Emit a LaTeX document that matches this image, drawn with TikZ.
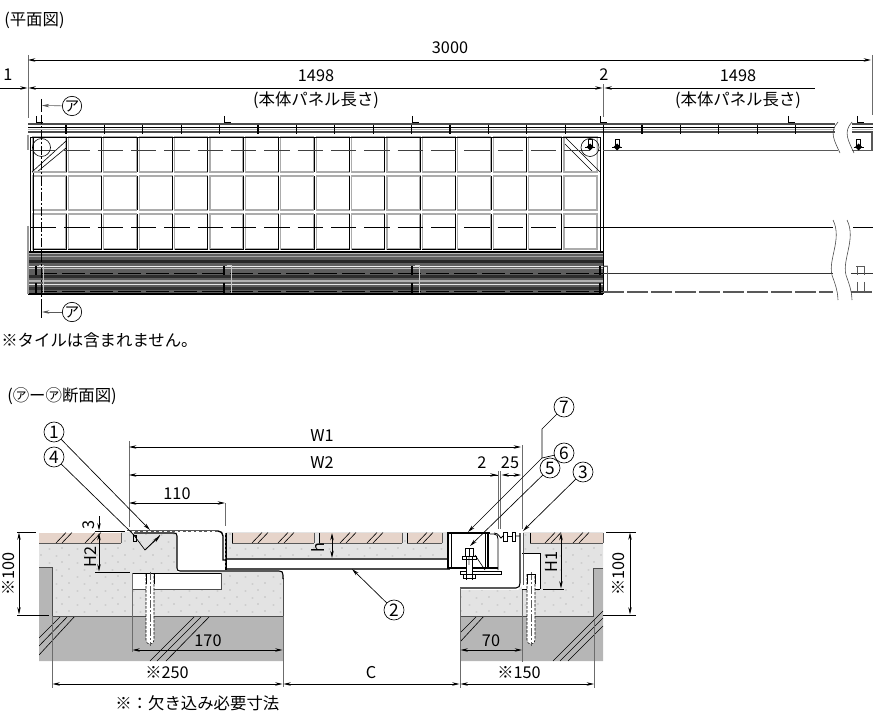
\documentclass[tikz,border=0pt]{standalone}
\usepackage{fontspec}
\setmainfont{Noto Sans CJK JP}
\usetikzlibrary{arrows.meta}
\usetikzlibrary{positioning}
\definecolor{tilecol}{HTML}{E6D4CA}
\definecolor{mortarcol}{HTML}{E3E3E3}
\definecolor{concol}{HTML}{B6B6B6}
\definecolor{bandcol}{HTML}{5E5E5E}
\begin{document}
\begin{tikzpicture}[x=0.75pt,y=-0.75pt,line width=0.45pt,>={Stealth[length=5.5pt,width=2.6pt]},
    dimline/.style={<->,line width=0.5pt}, halfdim/.style={->,line width=0.5pt},
    extline/.style={draw=gray!85!black,line width=0.6pt},
    leader/.style={->,line width=0.5pt},
    tag node/.style={circle,draw,line width=0.5pt,inner sep=0pt,minimum size=15pt,font=\fontsize{13}{13}\selectfont},
    small tag/.style={tag node,minimum size=14.5pt,font=\fontsize{11}{11}\selectfont},
    num node/.style={inner sep=0pt,font=\fontsize{12.2}{12.2}\selectfont},
    jp node/.style={inner sep=0pt,font=\fontsize{12.3}{13}\selectfont},
    tile line/.style={draw=gray!65,line width=0.8pt},
    strip line/.style={draw=gray!60!black,line width=1.1pt},
    long dash/.style={dash pattern=on 19pt off 6pt},
    hatch/.style={line width=0.45pt},
    dotmark/.style={fill=gray!60,draw=gray!30,line width=0.2pt},
    boltline/.style={line width=0.4pt,dash pattern=on 2pt off 1pt,fill=white}]
  \useasboundingbox (0,0) rectangle (873,716);

  % plan
  \node[jp node,anchor=west] (plantitle) at (4,20) {(平面図)};
  \node[num node] (t3000) at (450,48) {3000};
  \node[num node] (t1) at (8,75) {1};
  \node[num node] (t1498a) at (316,76) {1498};
  \node[num node] (t2a) at (604,75) {2};
  \node[num node] (t1498b) at (738,76) {1498};
  \node[jp node] (nagasa1) at (316,100) {(本体パネル長さ)};
  \node[jp node] (nagasa2) at (738,100) {(本体パネル長さ)};
  \draw[extline] (28,55) -- (28,118);
  \draw[extline] (872,55) -- (872,115);
  \draw[extline] (603.5,84) -- (603.5,117);
  \draw[dimline] (28,60) -- (871,60);
  \draw[halfdim] (0,88) -- (27.5,88);
  \draw[dimline] (28.5,88) -- (602.5,88);
  \draw[<-,line width=0.5pt] (604.5,88) -- (815,88);

  % panel band
  \fill[bandcol] (28,252) rectangle (603,294);
  \foreach \y/\c/\w in {254/gray!55/1,257/gray!70/1,262/gray!30!black/3,266.5/gray!15/1,269/gray!50/1,
      277/gray!35!black/3,281/gray!60/1.2,284.5/gray!20/1.2,288/gray!40!black/3} {
    \draw[draw=\c,line width=\w*0.75pt] (28,\y) -- (603,\y);
  }
  \draw[line width=1pt] (28,252) -- (603,252);
  \draw[line width=1.2pt] (28,294) -- (603,294);
  \draw[line width=1pt,dash pattern=on 17pt off 4pt,dash phase=6pt] (42,273.5) -- (603,273.5);
  \draw[line width=1pt,dash pattern=on 17pt off 4pt,dash phase=6pt] (42,291.5) -- (603,291.5);
  \foreach \x in {36,224,412,600} {
    \draw[line width=1.2pt] (\x,266) -- (\x,275) (\x,283) -- (\x,293);
    \draw[draw=gray!45,line width=0.4pt] (\x+7,265) -- (\x+3,265) (\x+7,265) -- (\x+7,293);
  }

  % tiles
  \foreach \i in {0,...,15} {
    \pgfmathsetmacro\tx{33+35.4*\i}
    \foreach \ya/\yb in {137/172,176/210,214/249} {
      \draw[tile line] (\tx,\ya) rectangle (\tx+33,\yb);
    }
  }
  \foreach \i in {0,...,14} {
    \pgfmathsetmacro\tx{33+35.4*\i}
    \draw (\tx,137) -- (\tx+33,137) -- (\tx+33,172);
    \draw (\tx+33,176) -- (\tx+33,210);
    \draw (\tx+33,214) -- (\tx+33,249) -- (\tx,249);
  }
  \fill[white] (33.5,137.5) rectangle (65,170) (565,137.5) rectangle (596.5,170);
  \draw (30,137) -- (600,137) (30,137) -- (30,252) (33,137) -- (33,252);
  \draw (600,137) -- (600,252) (603,133) -- (603,294);
  \draw[line width=1pt,draw=gray!80] (28,135) -- (28,150) (28,226) -- (28,294);
  \draw (66,141) -- (32,172) (66,148) -- (37,172);
  \draw (565,137) -- (600,172) (565,144) -- (593,172);
  \draw[tile line] (33,172) -- (66,172) (565,172) -- (597,172);

  % top strip
  \foreach \xa/\xb in {28/835,852/873} {
    \draw[strip line] (\xa,124) -- (\xb,124);
    \draw[line width=0.7pt] (\xa,127.5) -- (\xb,127.5);
    \draw[strip line] (\xa,132) -- (\xb,132);
    \draw[draw=gray!60,line width=0.6pt] (\xa,129.5) -- (\xb,129.5);
  }
  \foreach \i in {0,...,19} {
    \draw[line width=1pt] (66+38.4*\i,125) -- (66+38.4*\i,134);
  }
  \foreach \x in {36,224,412,600,788,857} {
    \draw[line width=0.55pt] (\x,116) -- (\x,122) -- (\x+7,122);
  }

  % long lines
  \draw[long dash,draw=gray!50!black] (31,150) -- (600,150);
  \draw[long dash] (31,227) -- (600,227);
  \draw[draw=gray!70!black] (603,150.5) -- (838,150.5) (852,150.5) -- (873,150.5);
  \draw (590,227) -- (833,227) (853,227) -- (873,227);
  \draw[line width=1pt,draw=gray!40!black] (603,273.5) -- (833,273.5) (851,273.5) -- (873,273.5);
  \draw[draw=gray!70!black,line width=0.8pt,dash pattern=on 16pt off 2pt] (603,292) -- (833,292) (851,292) -- (873,292);
  \draw[draw=gray!70!black] (603,266) -- (607,266) -- (607,293);
  \draw[draw=gray!70!black] (856,266) -- (864,266) (857,266) -- (857,275) (864,266) -- (864,275)
       (857,282) -- (857,293) (864,282) -- (864,293);
  \draw[draw=gray!70!black,line width=0.8pt] (872,133) -- (872,150);

  % break marks
  \foreach \dx in {0,14} {
    \draw[draw=gray!60!black] (838+\dx,122) .. controls (829+\dx,132) and (834+\dx,140) .. (840+\dx,153);
    \draw[draw=gray!60!black] (833+\dx,220) .. controls (843+\dx,240) and (826+\dx,262) .. (833+\dx,278)
         .. controls (836+\dx,286) and (838+\dx,294) .. (838+\dx,300);
  }

  % fixing holes
  \coordinate (holeL) at (41.5,147.5);
  \coordinate (holeR) at (590,147.5);
  \draw (holeL) circle (9);
  \draw (holeR) circle (9);
  \fill (holeL) circle (0.7);
  \foreach \x in {590,617,858.5} {
    \draw (\x-2,139) rectangle (\x+2,145);
    \fill (\x-3.5,147) -- (\x,143.5) -- (\x+3.5,147) -- (\x,150.5) -- cycle;
    \draw[line width=0.5pt] (\x-5,147) -- (\x+5,147);
  }

  % section mark
  \node[small tag] (aTop) at (72,106) {ア};
  \node[small tag] (aBot) at (72,312) {ア};
  \coordinate (markTop) at (42,105.5);
  \coordinate (markBot) at (42,312);
  \draw[line width=0.6pt] (41,99) -- (41,112);
  \draw[line width=0.45pt,dash pattern=on 7pt off 1.5pt on 1.5pt off 1.5pt] (41,115) -- (41,305);
  \draw[line width=0.6pt] (41,305) -- (41,318);
  \draw[->,draw=gray!70!black] (aTop) -- (markTop);
  \draw[->,draw=gray!70!black] (aBot) -- (markBot);
  \node[jp node,anchor=west] (notile) at (1,340) {※タイルは含まれません。};

  % section title
  \node[jp node,anchor=west] (sectitle) at (7,396) {(㋐ー㋐断面図)};

  % concrete
  \fill[concol] (39,567) -- (52,567) -- (52,616) -- (283,616) -- (283,661) -- (39,661) -- cycle;
  \fill[concol] (460,616) -- (593,616) -- (593,568) -- (603,568) -- (603,661) -- (460,661) -- cycle;
  \begin{scope}
    \clip (39,567) -- (52,567) -- (52,616) -- (283,616) -- (283,661) -- (39,661) -- cycle
          (460,616) -- (593,616) -- (593,568) -- (603,568) -- (603,661) -- (460,661) -- cycle;
    \foreach \xa/\ya/\xb/\yb in {39/638/61/616,39/646/68/616,39/655/75/616,150/661/195/616,157/661/202/616,166/661/210/616,
        460/633/477/616,460/642/484/616,553/661/603/611,560/661/603/618,568/661/603/626} {
      \draw[hatch] (\xa,\ya) -- (\xb,\yb);
    }
  \end{scope}

  % mortar
  \fill[mortarcol] (39,543) -- (39,567) -- (52,567) -- (52,616) -- (283,616) -- (283,572) -- (177,572) -- (177,532) -- (121,532) -- (121,543) -- cycle;
  \fill[mortarcol] (226,532) rectangle (447,558);
  \fill[mortarcol] (523,532) -- (603,532) -- (603,568) -- (593,568) -- (593,616) -- (460,616) -- (460,590) -- (518,590) -- (523,585) -- cycle;
  \begin{scope}
    \clip (39,543) -- (39,567) -- (52,567) -- (52,616) -- (283,616) -- (283,572) -- (177,572) -- (177,532) -- (121,532) -- (121,543) -- cycle
          (226,532) rectangle (447,558)
          (523,532) -- (603,532) -- (603,568) -- (593,568) -- (593,616) -- (460,616) -- (460,590) -- (518,590) -- (523,585) -- cycle;
    \foreach \r in {0,...,11} {
      \foreach \c in {0,...,41} {
        \pgfmathsetmacro\dotx{34+14*\c+7*mod(\r,2)+1.5*mod(\c*3,2)}
        \pgfmathsetmacro\doty{534+7*\r+mod(\c,2)}
        \fill[dotmark] (\dotx,\doty) circle (0.8);
      }
    }
  \end{scope}
  \fill[white] (132,573) rectangle (221,589);
  \fill[white] (522,553) rectangle (540,589);

  % tiles in section
  \foreach \xa/\xb in {39/121,232/314,319/402,407/442,530/603} {
    \fill[tilecol] (\xa,532.5) rectangle (\xb,543);
    \draw[draw=gray!70!black,line width=0.6pt] (\xa,543) -- (\xb,543) (\xb,532.5) -- (\xb,543);
  }
  \draw[line width=0.4pt] (232,532.5) -- (232,543) (319,532.5) -- (319,543) (407,532.5) -- (407,543) (530,532.5) -- (530,543);
  \foreach \x in {56,62,85,91,252,258,278,284,340,346,367,373,417,423,545,551,573,579} {
    \draw[hatch] (\x,543) -- (\x+10,532.5);
  }

  % outlines of the blocks
  \draw[draw=gray!60!black,line width=0.7pt] (39,567) -- (52,567) -- (52,616) -- (283,616) -- (283,578);
  \draw[draw=gray!60!black,line width=0.7pt] (460,616) -- (593,616) -- (593,568) -- (603,568);
  \draw[draw=gray!60!black,line width=0.6pt] (132,589) -- (221,589) -- (221,573);
  \draw[line width=0.5pt] (132,573) -- (221,573);
  \draw[line width=0.6pt] (522,553) -- (540,553) -- (540,589) (522,589) -- (540,589);
  \draw[draw=gray!60!black,line width=1.2pt] (226,559) -- (447,559) (226,569) -- (283,569) (283,569) -- (450,569);

  % left profile
  \draw[line width=1pt] (127,531) -- (218,531) .. controls (221,531) and (223,533) .. (223,536) -- (223,560) -- (226,560);
  \draw[white,line width=0.5pt,dash pattern=on 2pt off 2pt] (127,531) -- (215,531);
  \draw[line width=0.8pt] (134,533) -- (174,533) .. controls (176,533) and (177,534) .. (177,536) -- (177,568) .. controls (177,570) and (178,571) .. (180,571) -- (279,571) .. controls (282,571) and (283,572) .. (283,575) -- (283,579);
  \draw[line width=0.8pt] (226,533) -- (226,570);
  \draw[draw=gray!70!black,line width=0.5pt,dash pattern=on 1.5pt off 1.5pt] (225,533) -- (225,568);
  \draw[line width=0.5pt] (133,534) -- (145,550) -- (160,535);
  \draw[line width=0.4pt] (133,535) rectangle (136,541);
  \draw[->,line width=0.5pt] (145,550) -- (160,536);

  % right profile
  \draw[line width=0.8pt] (460,588) -- (516,588) .. controls (519,588) and (520,586) .. (520,583) -- (520,533);
  \draw[draw=gray!70!black,line width=0.5pt] (523,533) -- (523,585);
  \draw[line width=0.8pt] (447,533) -- (490,533);
  \draw[line width=1.2pt] (448,533) -- (448,569) (488,533) -- (488,569);
  \draw[line width=0.5pt] (451,533) -- (451,569) (485,533) -- (485,569);
  \draw[line width=0.8pt] (448,568) -- (498,568);
  \draw[line width=0.6pt] (460,571) -- (501,571) -- (501,574) -- (460,574) -- cycle;
  \draw[line width=0.6pt] (490,534) -- (494,534) .. controls (497,534) and (498,536) .. (498,539) -- (498,570);
  \draw[line width=0.6pt] (494,533) .. controls (499,533) and (500,538) .. (501,538) -- (503,536) (515,536) -- (520,536);
  \draw[line width=0.5pt] (503,532) rectangle (507,541) (512,532) rectangle (515,541) (507,536) -- (512,536);
  \draw[line width=0.5pt] (475,555) -- (485,570);
  \fill[white] (466,548) rectangle (472,580);
  \draw[line width=0.6pt] (466,556) -- (466,580) (472,556) -- (472,580);
  \fill[gray!50] (468,556) rectangle (470,565);
  \draw[line width=0.7pt] (465,548) rectangle (473,556) (462,556) rectangle (476,559);
  \draw[line width=0.7pt] (463,574) rectangle (475,578);
  \draw[line width=0.5pt] (469,548) -- (469,556);

  % anchors
  \foreach \x in {146,527} {
    \draw[boltline] (\x,574) -- (\x,640) .. controls (\x,643) and (\x+2,644) .. (\x+4,644) .. controls (\x+6,644) and (\x+8,643) .. (\x+8,640) -- (\x+8,574);
    \draw[draw=gray!70!black,line width=0.4pt,dash pattern=on 6pt off 1.5pt on 1.5pt off 1.5pt] (\x+4,572) -- (\x+4,646);
    \draw[line width=0.4pt] (\x,574) -- (\x,584) (\x+8,574) -- (\x+8,584);
  }
  \draw[line width=0.4pt] (527,574) -- (535,574);

  % extension lines of the section
  \draw[extline] (129,441) -- (129,527);
  \draw[extline] (225,503) -- (225,526);
  \draw[extline] (522,445) -- (522,529);
  \draw[extline] (498.5,471) -- (498.5,529);
  \draw[extline] (500.5,471) -- (500.5,529);
  \draw[extline] (132,573) -- (132,652);
  \draw[extline] (283,616) -- (283,687);
  \draw[extline] (52,616) -- (52,688);
  \draw[extline] (460,588) -- (460,688);
  \draw[extline] (522.5,590) -- (522.5,662);
  \draw[extline] (594.5,620) -- (594.5,688);
  \draw (17,532) -- (36,532) (17,615) -- (49,615);
  \draw (95,531) -- (125,531) (95,572) -- (130,572);
  \draw (606,532) -- (636,532) (603,615) -- (636,615);
  \draw (543,589) -- (564,589);

  % dimensions of the section
  \draw[dimline] (129,447) -- (521,447);
  \draw[<-,line width=0.5pt] (129,475) -- (497.5,475);
  \draw[->,line width=0.5pt] (490,475) -- (497.5,475);
  \draw[dimline] (501.5,475) -- (521,475);
  \draw[dimline] (129,503) -- (225,503);
  \draw[halfdim] (99,516) -- (99,530.5);
  \draw[dimline] (99,533) -- (99,571.5);
  \draw[dimline] (19,532.5) -- (19,614.5);
  \draw[dimline] (332,533) -- (332,558);
  \draw[dimline] (561,533) -- (561,588.5);
  \draw[dimline] (630,532.5) -- (630,614.5);
  \draw[dimline] (132.5,650) -- (282.5,650);
  \draw[dimline] (460.5,650) -- (522,650);
  \draw[dimline] (52.5,684) -- (282.5,684);
  \draw[dimline] (283.5,684) -- (459.5,684);
  \draw[dimline] (460.5,684) -- (594,684);

  \node[num node] (tW1) at (322,436) {W1};
  \node[num node] (tW2) at (322,463) {W2};
  \node[num node] (t2b) at (482,463) {2};
  \node[num node] (t25) at (510,463) {25};
  \node[num node] (t110) at (177,494) {110};
  \node[num node,rotate=90] (t3) at (89,525) {3};
  \node[num node,rotate=90] (tH2) at (91,557) {H2};
  \node[num node,rotate=90] (th) at (318,548) {h};
  \node[num node,rotate=90] (tH1) at (552,562) {H1};
  \node[num node,rotate=90] (tkome1) at (9,574) {※100};
  \node[num node,rotate=90] (tkome2) at (619,574) {※100};
  \node[num node] (t170) at (208,641) {170};
  \node[num node] (t70) at (491,641) {70};
  \node[num node] (t250) at (167,673) {※250};
  \node[num node] (tC) at (371,673) {C};
  \node[num node] (t150) at (519,673) {※150};
  \node[jp node,anchor=west] (notedim) at (115,703) {※：欠き込み必要寸法};

  % callouts
  \node[tag node] (n1) at (54,432) {1};
  \node[tag node] (n4) at (54,457) {4};
  \node[tag node] (n2) at (394,610) {2};
  \node[tag node] (n3) at (583,472) {3};
  \node[tag node] (n5) at (550,468) {5};
  \node[tag node] (n6) at (564,453) {6};
  \node[tag node] (n7) at (564,407) {7};
  \coordinate (p1) at (150,530);
  \coordinate (p4) at (136,537);
  \coordinate (p2) at (352,569);
  \coordinate (p3) at (523,531);
  \coordinate (p5) at (470,546);
  \coordinate (p6) at (468,532);
  \coordinate (bend7) at (542,429);
  \coordinate (end7) at (542,458);
  \draw[leader] (n1) -- (p1);
  \draw[line width=0.5pt] (n4) -- (p4);
  \draw[leader] (n2) -- (p2);
  \draw[leader] (n3) -- (p3);
  \draw[leader] (n5) -- (p5);
  \draw[leader] (end7) -- (p6);
  \draw[line width=0.5pt] (n6) -- (end7);
  \draw[line width=0.5pt] (n7) -- (bend7) -- (end7);
\end{tikzpicture}
\end{document}
